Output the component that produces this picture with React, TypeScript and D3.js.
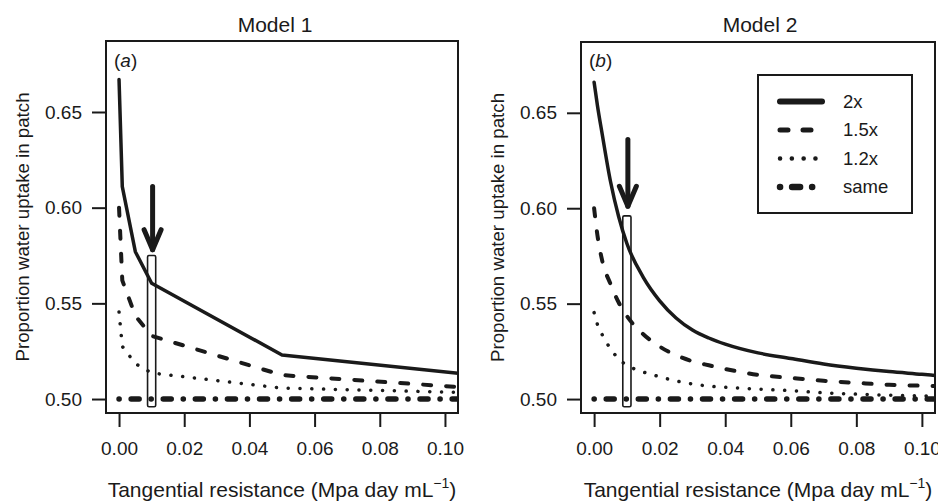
import React, { useEffect, useRef } from "react";
import * as d3 from "d3";

// tick values
const xTicks = [0, 0.02, 0.04, 0.06, 0.08, 0.1];
const yTicks = [0.5, 0.55, 0.6, 0.65];

// Model 1 (piecewise linear)
const m1X = [0, 0.001, 0.005, 0.01, 0.05, 0.104];
const m1Twice = [0.667, 0.611, 0.577, 0.5605, 0.523, 0.5135];
const m1OneFive = [0.6, 0.562, 0.5435, 0.533, 0.5125, 0.5063];
const m1OneTwo = [0.5455, 0.5275, 0.5185, 0.5136, 0.5057, 0.5035];
const m1Same = [0.5, 0.5, 0.5, 0.5, 0.5, 0.5];

// Model 2 (smooth)
const m2X = [0, 0.001, 0.0025, 0.005, 0.0075, 0.01, 0.015, 0.02, 0.025, 0.03, 0.035, 0.04, 0.05, 0.06, 0.07, 0.08, 0.09, 0.1, 0.104];
const m2Twice = [0.666, 0.654, 0.6385, 0.614, 0.5955, 0.5815, 0.5638, 0.5515, 0.5425, 0.5362, 0.532, 0.5288, 0.5242, 0.5213, 0.5184, 0.5162, 0.5144, 0.513, 0.5124];
const m2OneFive = [0.6, 0.586, 0.5723, 0.5603, 0.5506, 0.5435, 0.534, 0.5275, 0.523, 0.5198, 0.5177, 0.5158, 0.5127, 0.5111, 0.5096, 0.5085, 0.5075, 0.507, 0.5068];
const m2OneTwo = [0.5453, 0.5392, 0.5336, 0.5264, 0.521, 0.5178, 0.5142, 0.5117, 0.5095, 0.5079, 0.5068, 0.5062, 0.5052, 0.5044, 0.5033, 0.5026, 0.502, 0.5017, 0.5016];
const m2Same = m2X.map(() => 0.5);

const seriesNames = ["2x", "1.5x", "1.2x", "same"];

// highlighted resistance window and arrow
const boxX = [0.00875, 0.01125];
const boxYLow = 0.496;
const boxYHigh = [0.575, 0.596];
const arrowX = [0.0103, 0.0103];
const arrowTop = [0.611, 0.636];
const arrowTip = [0.577, 0.6];

const styles = [
  { width: 3.5, dash: null },
  { width: 4, dash: "8 15" },
  { width: 3.5, dash: "0.1 11.7" },
  { width: 5.5, dash: "0.1 12 8 12" },
];

const W = 938;
const H = 502;
const FONT = "'Liberation Sans', Arial, Helvetica, sans-serif";

const panels = [
  {
    title: "Model 1", tag: "a", titleX: 275,
    left: 106, right: 458, top: 41, bottom: 413,
    xs: m1X, ys: [m1Twice, m1OneFive, m1OneTwo, m1Same],
    curve: d3.curveLinear, legend: false,
  },
  {
    title: "Model 2", tag: "b", titleX: 760,
    left: 581, right: 935, top: 42, bottom: 413,
    xs: m2X, ys: [m2Twice, m2OneFive, m2OneTwo, m2Same],
    curve: d3.curveMonotoneX, legend: true,
  },
];

const App = () => {
  const svgRef = useRef(null);

  useEffect(() => {
    const svg = d3.select(svgRef.current);
    svg.selectAll("*").remove();

    panels.forEach((p, pi) => {
      const x = d3.scaleLinear().domain([-0.004, 0.104]).range([p.left, p.right]);
      const y = d3.scaleLinear().domain([0.4927, 0.6871]).range([p.bottom, p.top]);
      const g = svg.append("g");

      const clipId = "clip" + pi;
      g.append("clipPath").attr("id", clipId)
        .append("rect")
        .attr("x", p.left).attr("y", p.top)
        .attr("width", p.right - p.left).attr("height", p.bottom - p.top);

      const lines = g.append("g").attr("clip-path", `url(#${clipId})`);
      p.ys.forEach((vals, si) => {
        const line = d3.line()
          .x((d, i) => x(p.xs[i]))
          .y((d) => y(d))
          .curve(p.curve);
        lines.append("path")
          .attr("d", line(vals))
          .attr("fill", "none")
          .attr("stroke", "#1a1a1a")
          .attr("stroke-width", styles[si].width)
          .attr("stroke-linecap", "round")
          .attr("stroke-linejoin", "round")
          .attr("stroke-dasharray", styles[si].dash);
      });

      // highlight box
      g.append("rect")
        .attr("x", x(boxX[0]))
        .attr("y", y(boxYHigh[pi]))
        .attr("width", x(boxX[1]) - x(boxX[0]))
        .attr("height", y(boxYLow) - y(boxYHigh[pi]))
        .attr("rx", 1.5)
        .attr("fill", "none")
        .attr("stroke", "#1a1a1a")
        .attr("stroke-width", 1.6);

      // arrow
      const ax = x(arrowX[pi]);
      const tip = y(arrowTip[pi]);
      const arrow = g.append("g")
        .attr("stroke", "#1a1a1a")
        .attr("stroke-width", 5)
        .attr("stroke-linecap", "round")
        .attr("fill", "none");
      arrow.append("line").attr("x1", ax).attr("x2", ax)
        .attr("y1", y(arrowTop[pi])).attr("y2", tip - 2);
      arrow.append("path")
        .attr("d", `M${ax - 8.5},${tip - 22}L${ax},${tip - 2}L${ax + 8.5},${tip - 22}`)
        .attr("stroke-linejoin", "round");

      // frame
      g.append("rect")
        .attr("x", p.left).attr("y", p.top)
        .attr("width", p.right - p.left).attr("height", p.bottom - p.top)
        .attr("fill", "none").attr("stroke", "#1a1a1a").attr("stroke-width", 2);

      // axes
      const xAxis = d3.axisBottom(x).tickValues(xTicks).tickFormat(d3.format(".2f"))
        .tickSizeInner(14).tickSizeOuter(0).tickPadding(15);
      const xg = g.append("g").attr("transform", `translate(0,${p.bottom})`).call(xAxis);
      const yAxis = d3.axisLeft(y).tickValues(yTicks).tickFormat(d3.format(".2f"))
        .tickSizeInner(14).tickSizeOuter(0).tickPadding(10);
      const yg = g.append("g").attr("transform", `translate(${p.left},0)`).call(yAxis);
      [xg, yg].forEach((ag) => {
        ag.select(".domain").remove();
        ag.selectAll("line").attr("stroke", "#1a1a1a").attr("stroke-width", 2);
        ag.selectAll("text").attr("font-size", 19).attr("font-family", FONT).attr("fill", "#1a1a1a");
        ag.attr("font-family", null).attr("font-size", null);
      });

      // titles
      g.append("text").attr("x", p.titleX).attr("y", 32)
        .attr("text-anchor", "middle").attr("font-size", 21)
        .attr("font-family", FONT).attr("fill", "#1a1a1a").text(p.title);

      const tag = g.append("text").attr("x", p.left + 8).attr("y", 67)
        .attr("font-size", 19).attr("font-family", FONT).attr("fill", "#1a1a1a");
      tag.append("tspan").text("(");
      tag.append("tspan").attr("font-style", "italic").text(p.tag);
      tag.append("tspan").text(")");

      const xt = g.append("text").attr("x", (p.left + p.right) / 2).attr("y", 497)
        .attr("text-anchor", "middle").attr("font-size", 21)
        .attr("font-family", FONT).attr("fill", "#1a1a1a");
      xt.append("tspan").text("Tangential resistance (Mpa day mL");
      xt.append("tspan").attr("font-size", 14).attr("dy", -9).text("\u22121");
      xt.append("tspan").attr("dy", 9).text(")");

      g.append("text")
        .attr("transform", `translate(${p.left - 84},${(p.top + p.bottom) / 2}) rotate(-90)`)
        .attr("text-anchor", "middle").attr("dominant-baseline", "central")
        .attr("font-size", 18.7).attr("font-family", FONT).attr("fill", "#1a1a1a")
        .text("Proportion water uptake in patch");

      if (p.legend) {
        const lg = g.append("g");
        lg.append("rect").attr("x", 758).attr("y", 75).attr("width", 154).attr("height", 138)
          .attr("fill", "white").attr("stroke", "#1a1a1a").attr("stroke-width", 2);
        seriesNames.forEach((name, si) => {
          const ly = 101.5 + si * 28.5;
          lg.append("line").attr("x1", 780).attr("x2", 822).attr("y1", ly).attr("y2", ly)
            .attr("stroke", "#1a1a1a")
            .attr("stroke-width", si === 0 ? 6 : styles[si].width + 1)
            .attr("stroke-linecap", "round")
            .attr("stroke-dasharray", styles[si].dash);
          lg.append("text").attr("x", 843).attr("y", ly).attr("dy", "0.35em")
            .attr("font-size", 18.5).attr("font-family", FONT).attr("fill", "#1a1a1a")
            .text(name);
        });
      }
    });
  }, []);

  return (
    <svg ref={svgRef} width={W} height={H}
      style={{ position: "absolute", left: 0, top: 0, background: "white" }} />
  );
};

export default App;
